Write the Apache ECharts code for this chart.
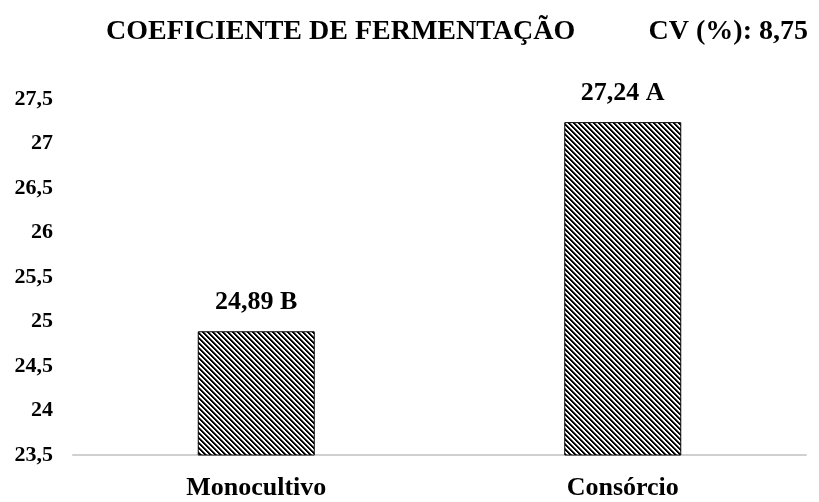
<!DOCTYPE html>
<html>
<head>
<meta charset="utf-8">
<script src="https://cdn.jsdelivr.net/npm/echarts@6/dist/echarts.min.js"></script>
<style>
  html, body { margin: 0; padding: 0; background: #fff; }
  #chart1 { width: 819px; height: 502px; }
</style>
</head>
<body>
<div id="chart1"></div>
<script>
var categories = ['Monocultivo', 'Consórcio'];
var values = [24.89, 27.24];
var letters = ['B', 'A'];
var yTicks = [23.5, 24, 24.5, 25, 25.5, 26, 26.5, 27, 27.5];

var FONT = '"Liberation Serif", "Times New Roman", serif';

function fmt(v) {
    return String(v).replace('.', ',');
}

// diagonal hatch tile (top-left to bottom-right stripes)
function hatch() {
    var p = 5;
    var c = document.createElement('canvas');
    c.width = p; c.height = p;
    var ctx = c.getContext('2d');
    var img = ctx.createImageData(p, p);
    for (var y = 0; y < p; y++) {
        for (var x = 0; x < p; x++) {
            var k = ((x - y) % p + p) % p;
            var v = k < 2 ? 0 : (k == 2 ? 110 : 255);
            var i = (y * p + x) * 4;
            img.data[i] = v; img.data[i + 1] = v; img.data[i + 2] = v; img.data[i + 3] = 255;
        }
    }
    ctx.putImageData(img, 0, 0);
    return c;
}

var chart = echarts.init(document.getElementById('chart1'));

var option = {
    backgroundColor: '#fff',
    animation: false,
    title: [{
        text: 'COEFICIENTE DE FERMENTAÇÃO',
        left: 101, top: 13,
        textStyle: { fontFamily: FONT, fontWeight: 'bold', fontSize: 28, color: '#000' }
    }, {
        text: 'CV (%): 8,75',
        right: 6, top: 13,
        textStyle: { fontFamily: FONT, fontWeight: 'bold', fontSize: 28, color: '#000' }
    }],
    grid: { left: 73, right: 13, top: 99, bottom: 47 },
    xAxis: {
        type: 'category',
        data: categories,
        axisLine: { lineStyle: { color: '#d0d0d0', width: 2 } },
        axisTick: { show: false },
        axisLabel: { fontFamily: FONT, fontWeight: 'bold', fontSize: 26, color: '#000', margin: 20 }
    },
    yAxis: {
        type: 'value',
        min: yTicks[0],
        max: yTicks[yTicks.length - 1],
        interval: 0.5,
        splitLine: { show: false },
        axisLine: { show: false },
        axisTick: { show: false },
        axisLabel: {
            fontFamily: FONT, fontWeight: 'bold', fontSize: 22, color: '#000', margin: 20,
            formatter: function (v) { return fmt(v); }
        }
    },
    series: [{
        type: 'bar',
        data: values,
        barWidth: 117,
        itemStyle: {
            color: { image: hatch(), repeat: 'repeat' },
            borderColor: '#000',
            borderWidth: 1
        },
        label: {
            show: true,
            position: 'top',
            distance: 16,
            fontFamily: FONT, fontWeight: 'bold', fontSize: 26, color: '#000',
            formatter: function (p) { return fmt(p.value) + ' ' + letters[p.dataIndex]; }
        }
    }]
};

chart.setOption(option);
</script>
</body>
</html>
